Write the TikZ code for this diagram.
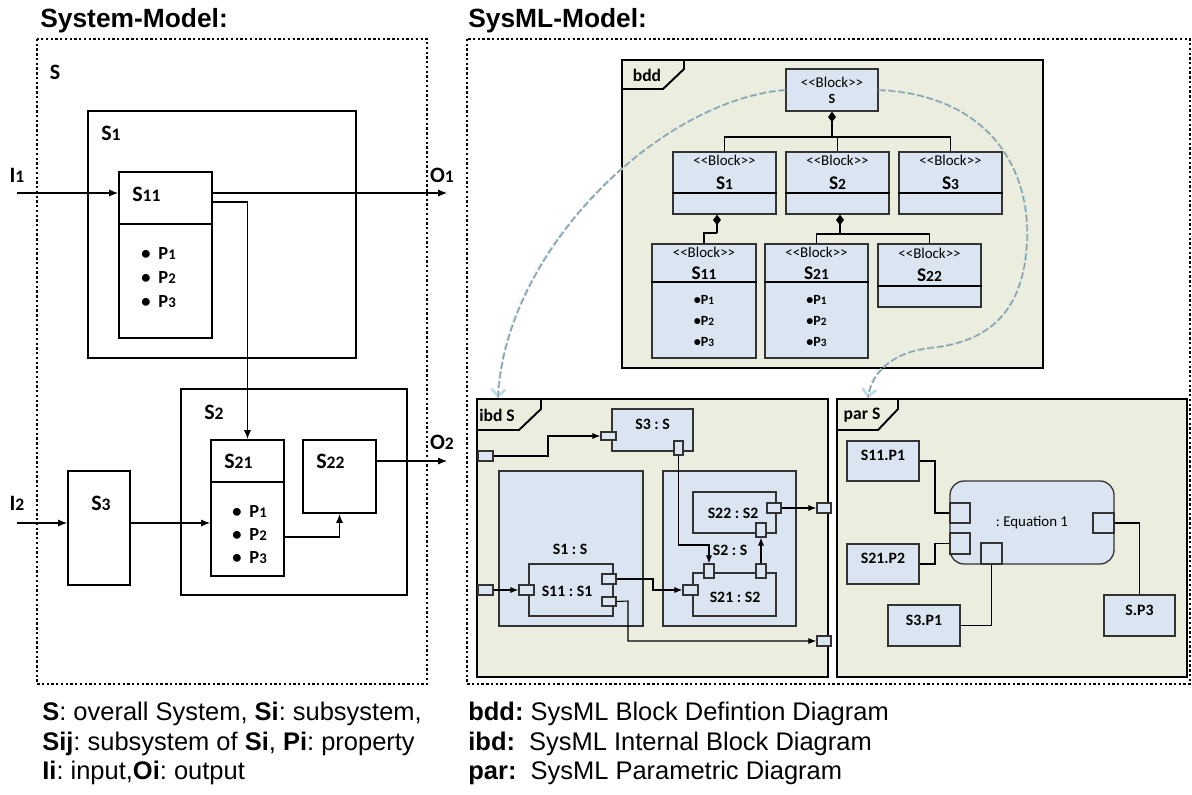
\documentclass[tikz,border=0pt]{standalone}
\usepackage{fontspec}
\usepackage{graphicx}
\setmainfont{Liberation Sans}
\newfontfamily\calibri{Carlito}
\usetikzlibrary{arrows.meta,fit}
\definecolor{framefill}{RGB}{235,238,222}
\definecolor{blockfill}{RGB}{219,229,241}
\definecolor{linkblue}{RGB}{183,221,232}
\newcommand{\dg}[1]{\scalebox{0.8}{#1}}
\frenchspacing

\begin{document}
\begin{tikzpicture}[x=0.02cm, y=-0.02cm,
	ttl/.style={font=\bfseries\fontsize{15}{18}\selectfont, inner sep=0pt, anchor=base west},
	note/.style={font=\fontsize{14.5}{17}\selectfont, inner sep=0pt, anchor=base west},
	dotframe/.style={line width=1.35pt, dash pattern=on 1.35pt off 1.35pt},
	sbox/.style={draw, line width=1.15pt, inner sep=0pt, fit={#1}},
	sarr/.style={line width=0.6pt, -{Latex[length=5pt,width=4pt]}},
	slab/.style={font=\calibri\bfseries\fontsize{12.5}{14}\selectfont, inner sep=0pt},
	plab/.style={font=\calibri\bfseries\fontsize{10.5}{12}\selectfont, inner sep=0pt, anchor=west},
	frm/.style={draw, fill=framefill, line width=1.1pt, inner sep=0pt, fit={#1}},
	tab/.style={line width=1.1pt},
	tablab/.style={font=\calibri\bfseries\fontsize{10}{12}\selectfont, inner sep=0pt},
	blk/.style={draw=black!80, fill=blockfill, line width=0.75pt, inner sep=0pt, fit={#1}},
	ster/.style={font=\calibri\fontsize{8.5}{10}\selectfont, inner sep=0pt},
	bname/.style={font=\calibri\bfseries\fontsize{11}{13}\selectfont, inner sep=0pt},
	bprop/.style={font=\calibri\bfseries\fontsize{8}{10}\selectfont, inner sep=0pt},
	pname/.style={font=\calibri\bfseries\fontsize{9}{11}\selectfont, inner sep=0pt},
	comp/.style={line width=1.1pt, -{Diamond[length=6pt,width=4.5pt]}},
	wire/.style={line width=0.6pt},
	iarr/.style={wire, -{Latex[length=4.5pt,width=3.5pt]}},
	link/.style={draw=linkblue, line width=1.5pt, dash pattern=on 4pt off 1.5pt,
		-{Straight Barb[length=4pt,width=8pt]},
		postaction={draw=gray!85, line width=0.6pt, dash pattern=on 4pt off 1.5pt, -}}]
\useasboundingbox (0,0) rectangle (1192,794);

% titles and dotted frames
\node[ttl] (tsys) at (40,28) {System-Model:};
\node[ttl] (tsysml) at (468,28) {SysML-Model:};
\draw[dotframe] (37,39) rectangle (427,684);
\draw[dotframe] (467,39) rectangle (1190,684);

% system model
\node[slab] (lS) at (55,72) {S};
\node[sbox={(88,111) (356,358)}] (s1) {};
\node[slab, anchor=west] (ls1) at (101,133) {S\dg{1}};
\node[sbox={(119,172) (212,338)}] (s11) {};
\draw[line width=1.15pt] (s11.west |- 0,224) -- (s11.east |- 0,224);
\node[slab, anchor=west] (ls11) at (132,194) {S\dg{11}};
\foreach \k/\yy in {1/254,2/278,3/302}
	\node[plab] at (141,\yy) {\textbullet\hspace{4.5pt}P\dg{\k}};

\node[sbox={(181,389) (407,595)}] (s2) {};
\node[slab, anchor=west] (ls2) at (204,412) {S\dg{2}};
\node[sbox={(211,440) (284,576)}] (s21) {};
\draw[line width=1.15pt] (s21.west |- 0,482) -- (s21.east |- 0,482);
\node[slab, anchor=west] (ls21) at (224,461) {S\dg{21}};
\foreach \k/\yy in {1/512,2/535,3/558}
	\node[plab] at (232,\yy) {\textbullet\hspace{4.5pt}P\dg{\k}};
\node[sbox={(303,440) (376,513)}] (s22) {};
\node[slab, anchor=west] (ls22) at (316,461) {S\dg{22}};
\node[sbox={(68,471) (130,585)}] (s3) {};
\node[slab, anchor=west] (ls3) at (91,503) {S\dg{3}};

\node[slab] (li1) at (17,175) {I\dg{1}};
\node[slab] (lo1) at (442,175) {O\dg{1}};
\node[slab] (li2) at (17,503) {I\dg{2}};
\node[slab] (lo2) at (442,442) {O\dg{2}};
\coordinate (in1) at (17,193);
\coordinate (out1) at (447,193);
\coordinate (in2) at (17,523);
\coordinate (out2) at (447,461);

\draw[sarr] (in1) -- (s11.west |- in1);
\draw[sarr] (s11.east |- out1) -- (out1);
\draw[sarr] (s11.east |- 0,202) -| (s21.north);
\draw[sarr] (in2) -- (s3.west |- in2);
\draw[sarr] (s3.east |- in2) -- (s21.west |- in2);
\draw[sarr] (s21.east |- 0,537) -| (s22.south);
\draw[sarr] (s22.east |- out2) -- (out2);

% bdd
\node[frm={(622,60) (1043,368)}] (bdd) {};
\draw[tab] (bdd.west |- 0,89) -- (663,89) -- (684,69) -- (bdd.north -| 684,0);
\node[tablab] at (647,75) {bdd};

\node[blk={(786,69) (878,111)}] (bS) {};
\node[ster] at (832,82) {<{}<Block>{}>};
\node[bprop] at (832,99) {S};

\node[blk={(673,152) (776,214)}] (bS1) {};
\node[blk={(786,152) (889,214)}] (bS2) {};
\node[blk={(899,152) (1002,214)}] (bS3) {};
\foreach \n/\xx/\k in {bS1/724.5/1, bS2/837.5/2, bS3/950.5/3} {
	\draw[wire] (\n.west |- 0,193) -- (\n.east |- 0,193);
	\node[ster] at (\xx,160) {<{}<Block>{}>};
	\node[bname] at (\xx,183) {S\dg{\k}};
}

\node[blk={(652,244) (756,358)}] (bS11) {};
\node[blk={(765,244) (868,358)}] (bS21) {};
\node[blk={(878,244) (981,307)}] (bS22) {};
\foreach \n/\xx/\k in {bS11/704/11, bS21/816.5/21} {
	\draw[wire] (\n.west |- 0,282) -- (\n.east |- 0,282);
	\node[ster] at (\xx,252) {<{}<Block>{}>};
	\node[bname] at (\xx,273) {S\dg{\k}};
	\node[bprop] at (\xx,300) {\textbullet P\dg{1}};
	\node[bprop] at (\xx,321) {\textbullet P\dg{2}};
	\node[bprop] at (\xx,342) {\textbullet P\dg{3}};
}
\draw[wire] (bS22.west |- 0,286) -- (bS22.east |- 0,286);
\node[ster] at (929.5,253) {<{}<Block>{}>};
\node[bname] at (929.5,275) {S\dg{22}};

\draw[wire] (bS1.north) |- (bS3.north |- 0,137) -- (bS3.north);
\draw[wire] (bS2.north) -- (bS2.north |- 0,137);
\draw[comp] (bS.south |- 0,137) -- (bS.south);
\draw[wire] (bS11.north) |- (717,233);
\draw[comp] (717,233) -- (bS1.south -| 717,0);
\draw[wire] (bS21.north) |- (bS22.north |- 0,234) -- (bS22.north);
\draw[comp] (840,234) -- (bS2.south -| 840,0);

% ibd
\node[frm={(477,399) (828,677)}] (ibd) {};
\draw[tab] (ibd.west |- 0,430) -- (519,430) -- (541,409) -- (ibd.north -| 541,0);
\node[tablab] at (497,415) {ibd S};

\node[blk={(612,409) (693,451)}, pname] (pS3) {S3 : S};
\node[blk={(499,471) (643,626)}] (pS1) {};
\node[pname] at (570,549) {S1 : S};
\node[blk={(529,564) (613,616)}] (pS11) {};
\node[pname] at (567,591) {S11 : S1};
\node[blk={(663,471) (796,626)}] (pS2) {};
\node[blk={(693,492) (776,533)}] (pS22) {};
\node[pname] at (733,513) {S22 : S2};
\node[blk={(693,573) (776,616)}] (pS21) {};
\node[pname] at (735,597) {S21 : S2};

\node[blk={(478,451) (493,461)}] (qF1) {};
\node[blk={(478,585) (493,595)}] (qF2) {};
\node[blk={(817,503) (831,513)}] (qF3) {};
\node[blk={(817,636) (831,646)}] (qF4) {};
\node[blk={(601,432) (616,440)}] (qS3a) {};
\node[blk={(674,441) (683,455)}] (qS3b) {};
\node[blk={(519,585) (534,595)}] (qS11a) {};
\node[blk={(602,574) (616,584)}] (qS11b) {};
\node[blk={(602,597) (616,606)}] (qS11c) {};
\node[blk={(683,585) (698,595)}] (qS21a) {};
\node[blk={(704,564) (714,578)}] (qS21b) {};
\node[blk={(756,564) (766,578)}] (qS21c) {};
\node[blk={(767,503) (781,513)}] (qS22a) {};
\node[blk={(756,523) (766,537)}] (qS22b) {};

\draw[iarr] (qF1.east) -- (548,456) |- (qS3a.west);
\draw[iarr] (qF2.east) -- (qS11a.west);
\draw[iarr] (qS11b.east) -- (653,579) |- (qS21a.west);
\draw[iarr] (qS11c.east) -- (628,601) |- (qF4.west);
\draw[iarr] (qS3b.south) |- (qS21b.north |- 0,545) -- (qS21b.north);
\draw[iarr] (qS21c.north) -- (qS22b.south);
\draw[iarr] (qS22a.east) -- (qF3.west);
\node[pname] at (730,550) {S2 : S};

% par
\node[frm={(837,399) (1187,677)}] (par) {};
\draw[tab] (par.west |- 0,430) -- (878,430) -- (898,409) -- (par.north -| 898,0);
\node[tablab] at (862,415) {par S};

\node[blk={(847,441) (919,481)}, pname] (v11) {S11.P1};
\node[blk={(847,544) (919,584)}, pname] (v21) {S21.P2};
\node[blk={(888,605) (960,646)}, pname] (v3) {S3.P1};
\node[blk={(1104,595) (1175,636)}, pname] (vS) {S.P3};
\node[blk={(950,481) (1114,564)}, rounded corners=8pt] (eq) {};
\node[ster] at (1032,523) {: Equation 1};
\node[blk={(950,503) (970,523)}] (e1) {};
\node[blk={(950,533) (970,554)}] (e2) {};
\node[blk={(981,543) (1002,564)}] (e3) {};
\node[blk={(1093,513) (1114,533)}] (e4) {};

\draw[wire] (v11.east) -- (935,461) |- (e1.west);
\draw[wire] (v21.east) -- (935,564) |- (e2.west);
\draw[wire] (v3.east) -| (e3.south);
\draw[wire] (e4.east) -| (vS.north);

% trace links
\draw[link] (bS.west) .. controls (660,100) and (505,250) .. (ibd.north -| 498,0);
\draw[link] (bS.east) .. controls (990,95) and (1030,170) .. (1027,240)
	.. controls (1024,320) and (980,343) .. (930,348)
	.. controls (895,352) and (872,370) .. (par.north -| 868,0);

% legend
\node[note] (n1) at (42,720) {\textbf{S}: overall System, \textbf{Si}: subsystem,};
\node[note] (n2) at (42,750) {\textbf{Sij}: subsystem of \textbf{Si}, \textbf{Pi}: property};
\node[note] (n3) at (42,779) {\textbf{Ii}: input,\textbf{Oi}: output};
\node[note] (n4) at (468,720) {\textbf{bdd:} SysML Block Defintion Diagram};
\node[note] (n5) at (468,750) {\textbf{ibd:}\ \ SysML Internal Block Diagram};
\node[note] (n6) at (468,779) {\textbf{par:}\ \ SysML Parametric Diagram};
\end{tikzpicture}
\end{document}
